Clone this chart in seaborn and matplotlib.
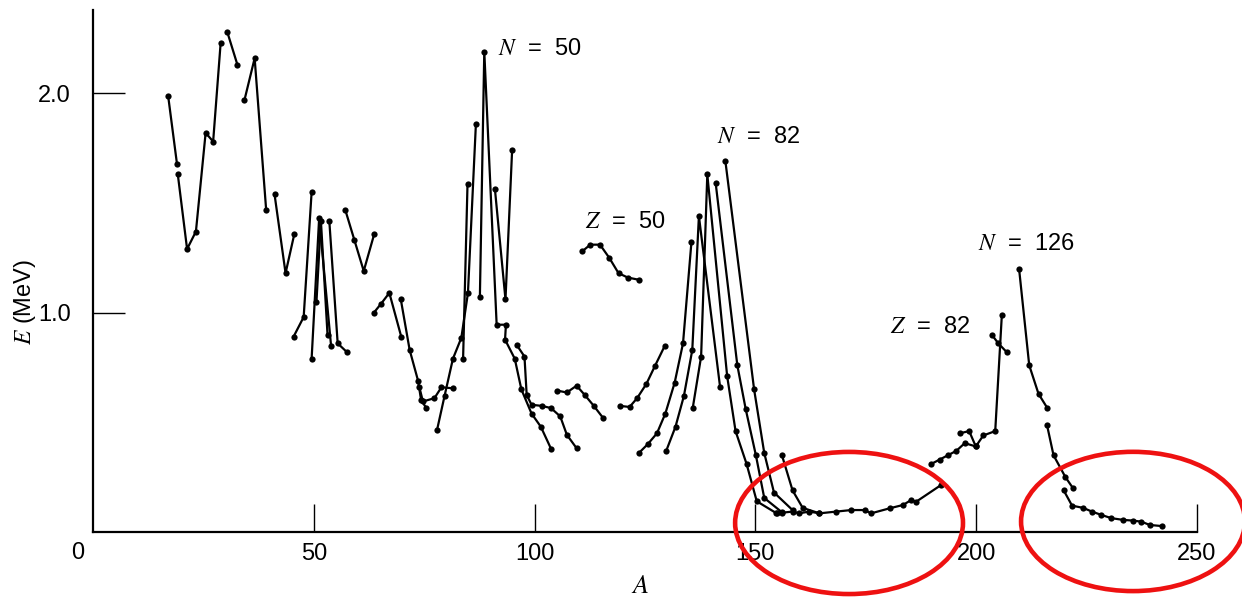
import pandas as pd
import seaborn as sns
import matplotlib.pyplot as plt
from matplotlib.patches import Ellipse

# Energies of first excited states (MeV) vs mass number A.
# Each pair is one connected run of points: (A values, E values)
s01 = ([17.0, 19.0], [1.99, 1.68])
s02 = ([19.2, 21.3, 23.3, 25.5, 27.2, 28.9], [1.63, 1.29, 1.37, 1.82, 1.78, 2.23])
s03 = ([30.4, 32.7], [2.28, 2.13])
s04 = ([34.3, 36.6, 39.2], [1.97, 2.16, 1.47])
s05 = ([41.1, 43.6, 45.6], [1.54, 1.18, 1.36])
s06 = ([45.4, 47.7, 49.5], [0.89, 0.98, 1.55])
s07 = ([49.5, 51.2, 53.9], [0.79, 1.43, 0.85])
s08 = ([50.6, 51.6, 53.1], [1.05, 1.42, 0.90])
s09 = ([53.5, 55.4, 57.5], [1.42, 0.86, 0.82])
s10 = ([57.1, 59.2, 61.3, 63.7], [1.47, 1.33, 1.19, 1.36])
s11 = ([63.6, 65.2, 67.1, 69.8], [1.00, 1.04, 1.09, 0.89])
s12 = ([69.7, 71.7, 73.6, 74.3, 75.5], [1.06, 0.83, 0.69, 0.60, 0.565])
s13 = ([73.9, 74.7, 77.3, 78.9, 81.5], [0.66, 0.595, 0.61, 0.66, 0.655])
s14 = ([77.9, 79.6, 81.5, 83.4, 84.9, 86.7], [0.465, 0.62, 0.79, 0.885, 1.09, 1.86])
s15 = ([83.8, 84.8], [0.79, 1.585])
s16 = ([87.6, 88.6, 91.4, 93.5, 93.3, 95.5, 97.0, 99.3, 101.4, 103.7],
       [1.07, 2.19, 0.945, 0.945, 0.877, 0.79, 0.65, 0.54, 0.48, 0.38])
s17 = ([91.0, 93.4, 94.9], [1.565, 1.06, 1.74])
s18 = ([95.9, 97.7, 98.2, 99.3, 101.6, 103.7, 105.8, 107.3, 109.5],
       [0.854, 0.80, 0.625, 0.58, 0.575, 0.565, 0.527, 0.443, 0.382])
s19 = ([105.0, 107.3, 109.5, 111.3, 113.4, 115.5], [0.645, 0.636, 0.667, 0.626, 0.575, 0.52])
s20 = ([110.8, 112.6, 114.8, 116.9, 119.0, 121.1, 123.6], [1.28, 1.31, 1.31, 1.25, 1.18, 1.16, 1.15])
s21 = ([119.3, 121.5, 123.2, 125.3, 127.2, 129.5], [0.575, 0.57, 0.61, 0.675, 0.755, 0.85])
s22 = ([123.6, 125.6, 127.7, 129.6, 131.7, 133.6, 135.5], [0.36, 0.40, 0.45, 0.54, 0.68, 0.86, 1.32])
s23 = ([129.8, 131.9, 133.8, 135.7, 137.2, 142.0], [0.37, 0.48, 0.62, 0.83, 1.44, 0.66])
s24 = ([135.8, 137.7, 139.1, 143.6, 145.5, 148.0, 150.3, 154.8],
       [0.565, 0.80, 1.63, 0.71, 0.46, 0.31, 0.14, 0.085])
s25 = ([141.0, 145.9, 147.8, 150.1, 152.0, 156.0], [1.59, 0.76, 0.56, 0.35, 0.155, 0.09])
s26 = ([143.2, 149.7, 152.0, 154.2, 158.4], [1.69, 0.65, 0.36, 0.18, 0.10])
s27 = ([156.0, 158.4, 160.7, 164.5], [0.35, 0.19, 0.11, 0.085])
s28 = ([154.6, 156.1, 158.4, 159.9, 162.2, 164.5, 168.3, 171.7, 174.7, 176.2, 180.4, 183.4, 185.3, 186.4, 192.1],
       [0.085, 0.088, 0.093, 0.085, 0.093, 0.085, 0.093, 0.10, 0.10, 0.085, 0.108, 0.123, 0.146, 0.138, 0.215])
s29 = ([189.8, 191.7, 193.6, 195.5, 197.4, 199.9, 201.6, 204.3, 205.8],
       [0.31, 0.33, 0.35, 0.37, 0.405, 0.39, 0.44, 0.46, 0.99])
s30 = ([196.3, 198.4, 199.9], [0.45, 0.46, 0.39])
s31 = ([203.5, 205.0, 206.9], [0.90, 0.86, 0.82])
s32 = ([209.7, 212.0, 214.1, 216.1], [1.20, 0.76, 0.63, 0.565])
s33 = ([216.0, 217.5, 220.2, 221.9], [0.49, 0.35, 0.25, 0.20])
s34 = ([219.8, 221.7, 224.2, 226.2, 228.3, 230.6, 233.3, 235.5, 237.4, 239.3, 242.0],
       [0.19, 0.12, 0.11, 0.093, 0.078, 0.063, 0.055, 0.052, 0.047, 0.032, 0.027])

segments = [s01, s02, s03, s04, s05, s06, s07, s08, s09, s10, s11, s12, s13, s14, s15, s16, s17,
            s18, s19, s20, s21, s22, s23, s24, s25, s26, s27, s28, s29, s30, s31, s32, s33, s34]

# magic-number labels
label_text = ['$N$  =  50', '$N$  =  82', '$Z$  =  50', '$Z$  =  82', '$N$  =  126']
label_A = [91.7, 141.3, 111.4, 180.5, 200.4]
label_E = [2.20, 1.80, 1.415, 0.936, 1.315]

rows = []
for i, (a_vals, e_vals) in enumerate(segments):
    for a, e in zip(a_vals, e_vals):
        rows.append({'A': a, 'E': e, 'seg': i})
df = pd.DataFrame(rows)

sns.set_style("white")
plt.rcParams['font.family'] = ['Liberation Sans', 'DejaVu Sans']
plt.rcParams['mathtext.fontset'] = 'stix'
plt.rcParams['text.color'] = 'black'
plt.rcParams['axes.labelcolor'] = 'black'
plt.rcParams['xtick.color'] = 'black'
plt.rcParams['ytick.color'] = 'black'

fig = plt.figure(figsize=(12.42, 5.98), dpi=100)
ax = fig.add_axes([0.0749, 0.1104, 0.8889, 0.8729])

sns.lineplot(data=df, x='A', y='E', units='seg', estimator=None, sort=False,
             color='black', marker='o', markersize=4.5, markeredgewidth=0,
             linewidth=1.6, ax=ax)

ax.set_xlim(0, 250)
ax.set_ylim(0, 2.38)
ax.set_xticks([50, 100, 150, 200, 250])
ax.set_yticks([1.0, 2.0])
ax.set_yticklabels(['1.0', '2.0'])
ax.tick_params(axis='x', bottom=True, direction='in', length=20, width=1, pad=8, labelsize=17)
ax.tick_params(axis='y', left=True, direction='in', length=23, width=1, pad=16, labelsize=17)
ax.text(-3.5, -0.02, '0', transform=ax.get_xaxis_transform(), ha='center', va='top', fontsize=17)

for side in ['top', 'right']:
    ax.spines[side].set_visible(False)
for side in ['left', 'bottom']:
    ax.spines[side].set_linewidth(1.6)
    ax.spines[side].set_color('black')

ax.set_xlabel('$A$', fontsize=19)
ax.set_ylabel('$E$ (MeV)', fontsize=17)
ax.xaxis.set_label_coords(0.4955, -0.08)
ax.yaxis.set_label_coords(-0.05, 0.44)

for t, a, e in zip(label_text, label_A, label_E):
    ax.text(a, e, t, fontsize=17, ha='left', va='center')

# red highlight ellipses
for cx, cy, w, h in [(171.2, 0.041, 51.6, 0.648), (235.5, 0.048, 50.7, 0.635)]:
    ax.add_patch(Ellipse((cx, cy), w, h, fill=False, edgecolor='#ee1111',
                         linewidth=3.3, clip_on=False, zorder=5))

plt.savefig('out.png', dpi=100)
plt.close()
